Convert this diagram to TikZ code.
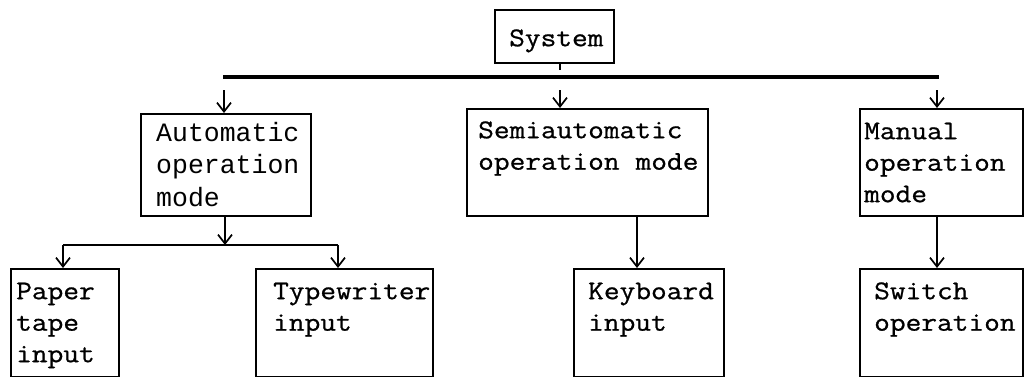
\documentclass[tikz,border=0pt]{standalone}
\usepackage{fontspec}
\usepackage{tikz}
\usetikzlibrary{arrows.meta}

\newfontfamily\typefont{Latin Modern Mono}[FakeStretch=1.13, FakeBold=0.8]
\newfontfamily\courfont{Liberation Mono}
\newcommand{\ttbox}{\typefont\fontsize{27}{31.5}\selectfont}
\newcommand{\courbox}{\courfont\fontsize{26.5}{32.5}\selectfont}

\begin{document}
\begin{tikzpicture}[x=1pt, y=-1pt,
        box/.style={draw, line width=2.4pt, anchor=north west, inner ysep=0pt,
            align=left, font=\ttbox, text height=30pt, text depth=78pt},
        arr/.style={line width=1.7pt, -{Straight Barb[length=9pt, width=14pt]}},
        bus/.style={line width=3.2pt}]
    \useasboundingbox (0,0) rectangle (1029,376);

    % Nodes
    \node[box, inner xsep=14pt, text width=91pt, text height=36pt, text depth=17pt] (sys) at (494,9) {System};
    \node[box, font=\courbox, inner xsep=15pt, text width=140pt, text height=27pt, text depth=75pt] (auto) at (140,113) {Automatic\\operation\\mode};
    \node[box, inner xsep=11pt, text width=219pt, text height=29pt] (semi) at (466,108) {Semiautomatic\\operation\kern16pt mode};
    \node[box, inner xsep=4pt, text width=155pt, text depth=77pt] (man) at (859,108) {Manual\\operation\\mode};
    \node[box, inner xsep=5pt, text width=98pt] (paper) at (10,268) {Paper\\tape\\input};
    \node[box, inner xsep=17pt, text width=143pt] (type) at (255,268) {Typewriter\\input};
    \node[box, inner xsep=14pt, text width=122pt] (key) at (573,268) {Keyboard\\input};
    \node[box, inner xsep=14pt, text width=135pt] (sw) at (859,268) {Switch\\operation};

    % Coordinates
    \coordinate (busL) at (223,77);
    \coordinate (busR) at (939,77);
    \coordinate (stub) at (560,70);
    \coordinate (a1) at (224,90);
    \coordinate (a2) at (560,90);
    \coordinate (a3) at (937,90);
    \coordinate (br) at (225,245);
    \coordinate (brL) at (63,245);
    \coordinate (brR) at (338,245);

    % Edges
    \draw[bus] (busL) -- (busR);
    \draw[line width=1.7pt] (sys.south -| stub) -- (stub);
    \draw[arr] (a1) -- (a1 |- auto.north);
    \draw[arr] (a2) -- (a2 |- semi.north);
    \draw[arr] (a3) -- (a3 |- man.north);
    \draw[arr] (auto.south -| br) -- (br);
    \draw[line width=2.4pt] (brL) -- (brR);
    \draw[arr] (brL) -- (brL |- paper.north);
    \draw[arr] (brR) -- (brR |- type.north);
    \draw[arr] (semi.south -| 637,0) -- (key.north -| 637,0);
    \draw[arr] (man.south -| 937,0) -- (sw.north -| 937,0);
\end{tikzpicture}
\end{document}
